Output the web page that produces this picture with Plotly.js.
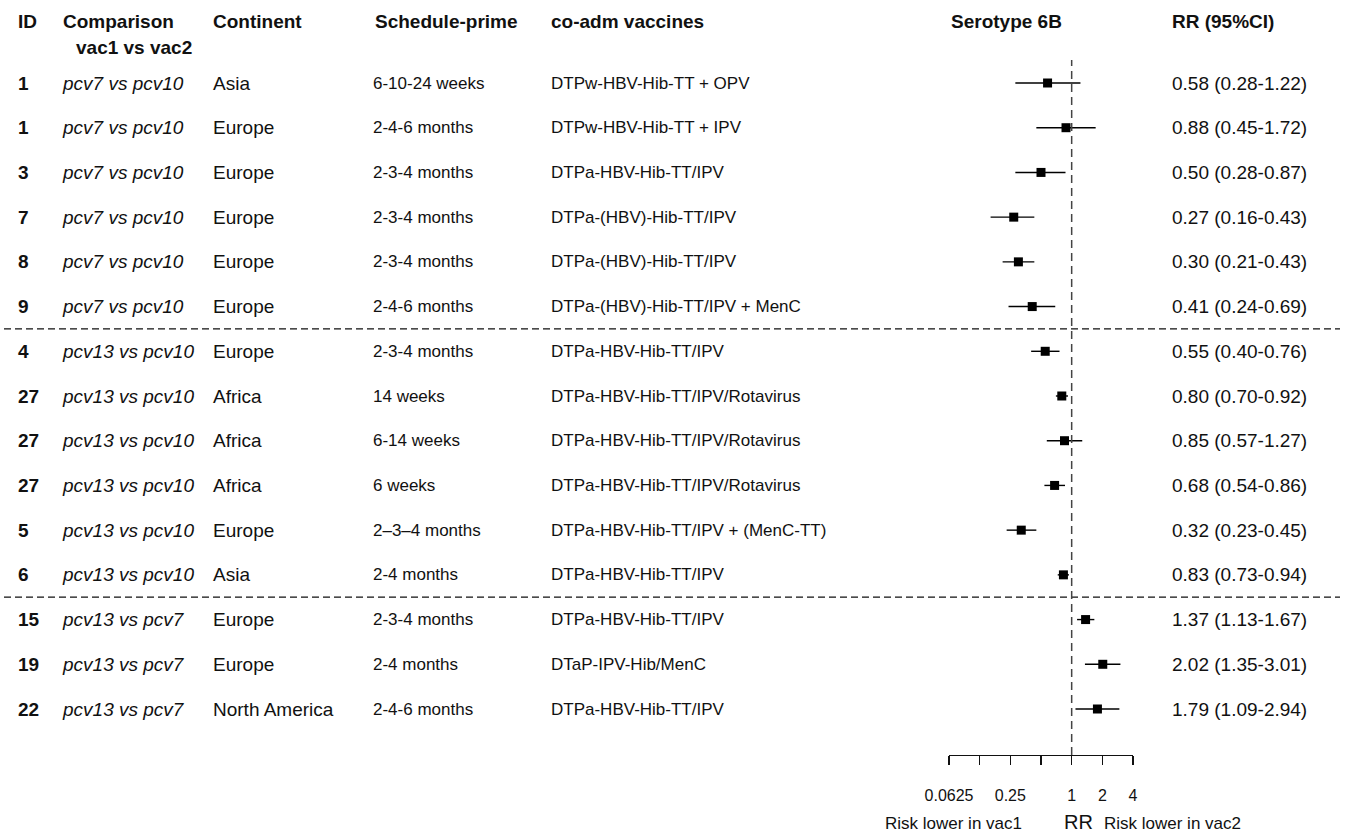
<!DOCTYPE html>
<html>
<head>
<meta charset="utf-8">
<script src="https://cdn.plot.ly/plotly-3.0.1.min.js"></script>
<style>html,body{margin:0;padding:0;background:#fff;}#chart{width:1346px;height:836px;}</style>
</head>
<body>
<div id="chart"></div>
<script>
// ---------- data ----------
const ids = ['1','1','3','7','8','9','4','27','27','27','5','6','15','19','22'];
const comparison = ['pcv7 vs pcv10','pcv7 vs pcv10','pcv7 vs pcv10','pcv7 vs pcv10','pcv7 vs pcv10','pcv7 vs pcv10',
  'pcv13 vs pcv10','pcv13 vs pcv10','pcv13 vs pcv10','pcv13 vs pcv10','pcv13 vs pcv10','pcv13 vs pcv10',
  'pcv13 vs pcv7','pcv13 vs pcv7','pcv13 vs pcv7'];
const continent = ['Asia','Europe','Europe','Europe','Europe','Europe','Europe','Africa','Africa','Africa','Europe','Asia','Europe','Europe','North America'];
const schedule = ['6-10-24 weeks','2-4-6 months','2-3-4 months','2-3-4 months','2-3-4 months','2-4-6 months',
  '2-3-4 months','14 weeks','6-14 weeks','6 weeks','2\u20133\u20134 months','2-4 months',
  '2-3-4 months','2-4 months','2-4-6 months'];
const vaccines = ['DTPw-HBV-Hib-TT + OPV','DTPw-HBV-Hib-TT + IPV','DTPa-HBV-Hib-TT/IPV','DTPa-(HBV)-Hib-TT/IPV',
  'DTPa-(HBV)-Hib-TT/IPV','DTPa-(HBV)-Hib-TT/IPV + MenC','DTPa-HBV-Hib-TT/IPV','DTPa-HBV-Hib-TT/IPV/Rotavirus',
  'DTPa-HBV-Hib-TT/IPV/Rotavirus','DTPa-HBV-Hib-TT/IPV/Rotavirus','DTPa-HBV-Hib-TT/IPV + (MenC-TT)',
  'DTPa-HBV-Hib-TT/IPV','DTPa-HBV-Hib-TT/IPV','DTaP-IPV-Hib/MenC','DTPa-HBV-Hib-TT/IPV'];
const rr = [0.58,0.88,0.50,0.27,0.30,0.41,0.55,0.80,0.85,0.68,0.32,0.83,1.37,2.02,1.79];
const lo = [0.28,0.45,0.28,0.16,0.21,0.24,0.40,0.70,0.57,0.54,0.23,0.73,1.13,1.35,1.09];
const hi = [1.22,1.72,0.87,0.43,0.43,0.69,0.76,0.92,1.27,0.86,0.45,0.94,1.67,3.01,2.94];
const tickVals = [0.0625,0.125,0.25,0.5,1,2,4];
const tickText = ['0.0625','','0.25','','1','2','4'];
const headers = ['ID','Comparison','Continent','Schedule-prime','co-adm vaccines','Serotype 6B','RR (95%CI)'];
const groupBreaks = [6.5, 12.5];

// ---------- layout helpers ----------
const W = 1346, H = 836;
const px = p => p / W;
const py = p => 1 - p / H;
const rows = ids.map((_, i) => i + 1);
const FONT = 'Liberation Sans, Arial, sans-serif';
const TXT = '#111';

const ann = [];
function addCol(vals, xpix, size, fmt) {
  vals.forEach((v, i) => ann.push({
    x: px(xpix), xref: 'paper', y: rows[i], yref: 'y', text: fmt ? fmt(v) : v,
    showarrow: false, xanchor: 'left', yanchor: 'middle',
    font: {family: FONT, size: size, color: TXT}
  }));
}
addCol(ids, 16, 19, v => '<b>' + v + '</b>');
addCol(comparison, 60, 19, v => '<i>' + v + '</i>');
addCol(continent, 211, 19);
addCol(schedule, 371, 17);
addCol(vaccines, 549, 17);
addCol(rr.map((v, i) => v.toFixed(2) + ' (' + lo[i].toFixed(2) + '-' + hi[i].toFixed(2) + ')'), 1170, 19);

const headerX = [16, 61, 211, 373, 549, 949, 1170];
headers.forEach((h, i) => ann.push({
  x: px(headerX[i]), xref: 'paper', y: py(22), yref: 'paper', text: '<b>' + h + '</b>',
  showarrow: false, xanchor: 'left', yanchor: 'middle',
  font: {family: FONT, size: 19, color: TXT}
}));
ann.push({x: px(74), xref: 'paper', y: py(47), yref: 'paper', text: '<b>vac1 vs vac2</b>',
  showarrow: false, xanchor: 'left', yanchor: 'middle', font: {family: FONT, size: 19, color: TXT}});
ann.push({x: px(883), xref: 'paper', y: py(823), yref: 'paper', text: 'Risk lower in vac1',
  showarrow: false, xanchor: 'left', yanchor: 'middle', font: {family: FONT, size: 17, color: TXT}});
ann.push({x: 0, xref: 'x', y: py(822), yref: 'paper', text: 'RR', xshift: 7,
  showarrow: false, xanchor: 'center', yanchor: 'middle', font: {family: FONT, size: 20, color: TXT}});
ann.push({x: px(1102), xref: 'paper', y: py(823), yref: 'paper', text: 'Risk lower in vac2',
  showarrow: false, xanchor: 'left', yanchor: 'middle', font: {family: FONT, size: 17, color: TXT}});

const shapes = [];
groupBreaks.forEach(b => shapes.push({
  type: 'line', xref: 'paper', x0: px(4), x1: px(1340), yref: 'y', y0: b, y1: b,
  line: {color: '#111', width: 1.2, dash: '7px,4px'}
}));
shapes.push({type: 'line', xref: 'x', x0: 1, x1: 1, yref: 'paper', y0: py(755), y1: py(60),
  line: {color: '#444', width: 1.5, dash: '8px,5px'}});

const yTopPix = 60, yBotPix = 755, r1 = 83, rN = 709;
const step = (rN - r1) / (rows.length - 1);
const yRange = [1 + (yBotPix - r1) / step, 1 - (r1 - yTopPix) / step];

const trace = {
  type: 'scatter', mode: 'markers', x: rr, y: rows,
  marker: {symbol: 'square', size: 9, color: '#000', line: {width: 0}},
  error_x: {type: 'data', symmetric: false,
    array: hi.map((h, i) => h - rr[i]), arrayminus: lo.map((l, i) => rr[i] - l),
    color: '#000', thickness: 1.4, width: 0},
  cliponaxis: false, hoverinfo: 'skip'
};

const layout = {
  width: W, height: H, margin: {l: 0, r: 0, t: 0, b: 0},
  paper_bgcolor: '#fff', plot_bgcolor: 'rgba(0,0,0,0)', showlegend: false,
  xaxis: {type: 'log', range: [Math.log10(0.0625), Math.log10(4)],
    domain: [px(949), px(1133)], showgrid: false, zeroline: false,
    showline: true, linecolor: '#111', linewidth: 1.2,
    ticks: 'outside', ticklen: 9, tickwidth: 1.2, tickcolor: '#111',
    tickvals: tickVals, ticktext: tickText, ticklabelstandoff: 17,
    tickfont: {family: FONT, size: 16, color: TXT}, fixedrange: true},
  yaxis: {range: yRange, domain: [py(yBotPix), py(yTopPix)], visible: false, fixedrange: true},
  annotations: ann, shapes: shapes
};
Plotly.newPlot('chart', [trace], layout, {staticPlot: true, displayModeBar: false});
</script>
</body>
</html>
